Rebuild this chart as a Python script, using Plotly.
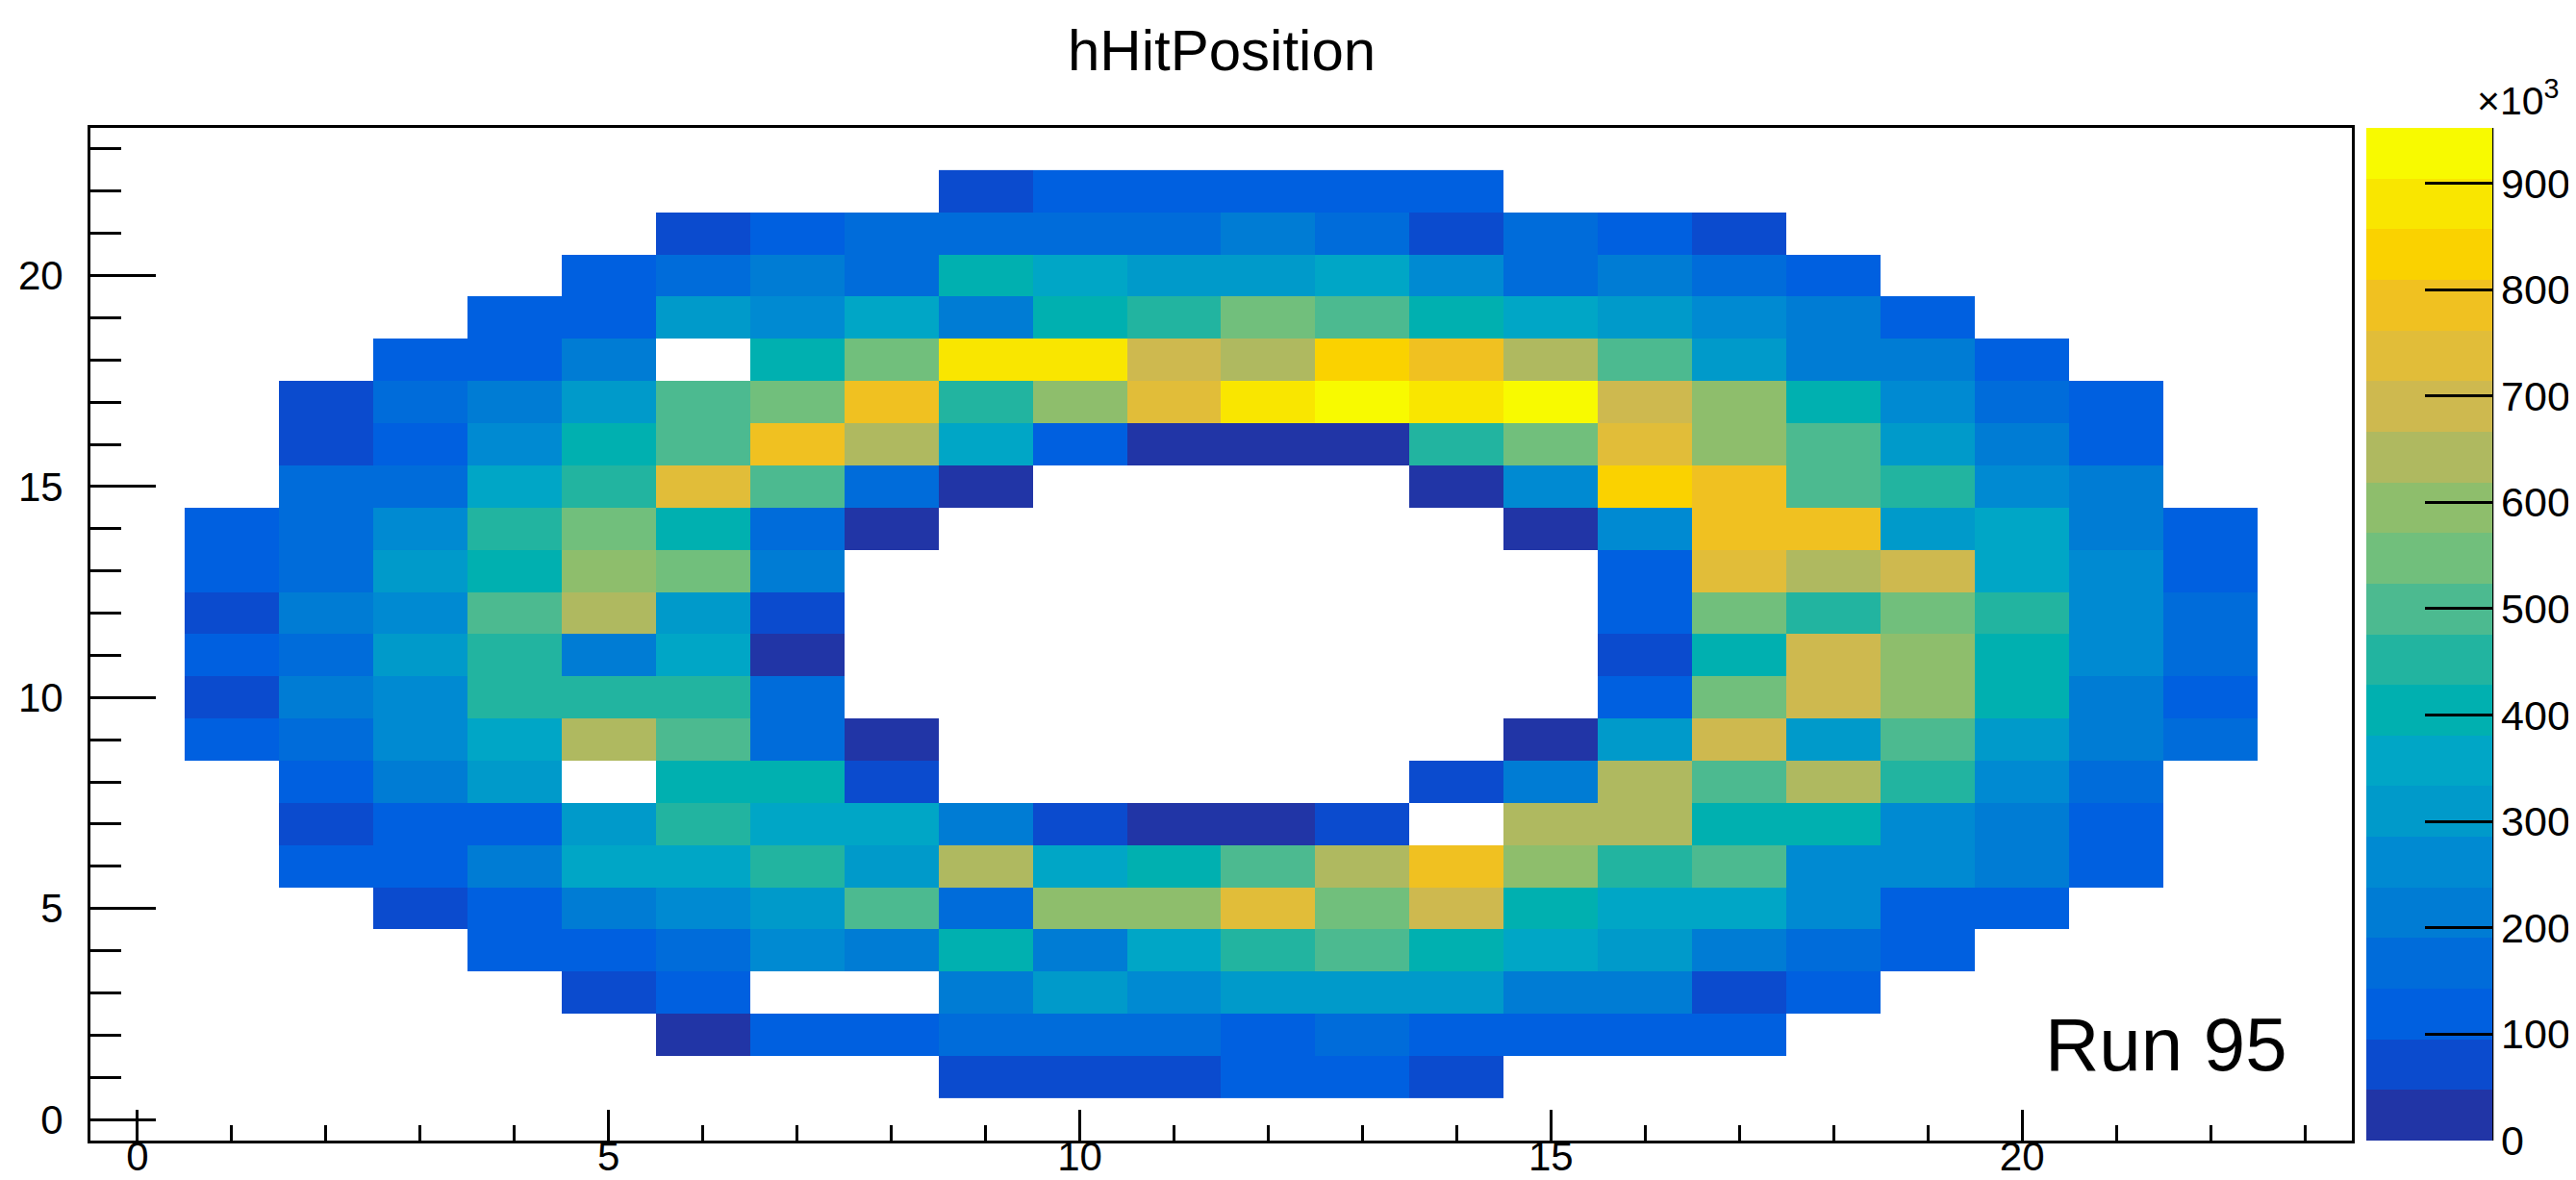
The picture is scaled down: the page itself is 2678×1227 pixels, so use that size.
import plotly.graph_objects as go

N = None

# bin centres (x, y) and z values in units of 10^3 counts
x_bins = list(range(1, 23))
y_bins = list(range(1, 23))

row_01 = [N]*8 + [70, 70, 70, 120, 120, 70] + [N]*8
row_02 = [N]*5 + [25, 120, 120, 165, 165, 165, 120, 165, 120, 120, 120, 120] + [N]*5
row_03 = [N]*4 + [70, 120, N, N, 215, 310, 260, 310, 310, 310, 215, 215, 70, 120] + [N]*4
row_04 = [N]*3 + [120, 120, 165, 260, 215, 405, 215, 355, 450, 500, 405, 355, 310, 215, 165, 120] + [N]*3
row_05 = [N]*2 + [70, 120, 215, 260, 310, 500, 165, 595, 595, 735, 545, 690, 405, 355, 355, 260, 120, 120] + [N]*2
row_06 = [N] + [120, 120, 215, 355, 355, 450, 310, 640, 355, 405, 500, 640, 785, 595, 450, 500, 260, 260, 215, 120] + [N]
row_07 = [N] + [70, 120, 120, 310, 450, 355, 355, 215, 70, 25, 25, 70, N, 640, 640, 405, 405, 260, 215, 120] + [N]
row_08 = [N] + [120, 215, 310, N, 405, 405, 70, N, N, N, N, N, 70, 215, 640, 500, 640, 450, 260, 165] + [N]
row_09 = [120, 165, 260, 355, 640, 500, 165, 25, N, N, N, N, N, N, 25, 300, 690, 310, 500, 310, 215, 165]
row_10 = [70, 215, 260, 450, 450, 450, 165] + [N]*8 + [120, 545, 690, 595, 405, 215, 120]
row_11 = [120, 165, 310, 450, 215, 355, 25] + [N]*8 + [70, 405, 690, 595, 405, 260, 165]
row_12 = [70, 215, 260, 500, 640, 310, 70] + [N]*8 + [120, 545, 450, 545, 450, 260, 165]
row_13 = [120, 165, 310, 405, 595, 545, 215] + [N]*8 + [120, 735, 640, 690, 355, 260, 120]
row_14 = [120, 165, 260, 450, 545, 405, 165, 25] + [N]*6 + [25, 260, 785, 785, 310, 355, 215, 120]
row_15 = [N] + [165, 165, 355, 450, 735, 500, 165, 25, N, N, N, N, 25, 260, 830, 785, 500, 450, 260, 215] + [N]
row_16 = [N] + [70, 120, 260, 405, 500, 785, 640, 355, 120, 25, 25, 25, 450, 545, 735, 595, 500, 310, 215, 120] + [N]
row_17 = [N] + [70, 165, 215, 310, 500, 545, 785, 450, 595, 735, 880, 930, 880, 930, 690, 595, 405, 260, 165, 120] + [N]
row_18 = [N]*2 + [120, 120, 215, N, 405, 545, 880, 880, 690, 640, 830, 785, 640, 500, 310, 215, 215, 120] + [N]*2
row_19 = [N]*3 + [120, 120, 310, 260, 355, 215, 405, 450, 545, 500, 405, 355, 310, 260, 215, 120] + [N]*3
row_20 = [N]*4 + [120, 165, 215, 165, 405, 355, 310, 310, 355, 260, 165, 215, 165, 120] + [N]*4
row_21 = [N]*5 + [70, 120, 165, 165, 165, 165, 215, 165, 70, 165, 120, 70] + [N]*5
row_22 = [N]*8 + [70, 120, 120, 120, 120, 120] + [N]*8

z_rows = [row_01, row_02, row_03, row_04, row_05, row_06, row_07, row_08, row_09, row_10, row_11,
          row_12, row_13, row_14, row_15, row_16, row_17, row_18, row_19, row_20, row_21, row_22]

z_max = 952
axis_ticks = [0, 5, 10, 15, 20]
cbar_ticks = [0, 100, 200, 300, 400, 500, 600, 700, 800, 900]

# ROOT kBird palette, 20 contour levels (as rendered)
palette = [
    "#2135A6", "#0B4BCE", "#0060E0", "#006CDA", "#007CD4",
    "#008AD2", "#009ACA", "#00A6C6", "#00B0B0", "#22B4A0",
    "#4CBA90", "#71BF7C", "#8EBE6C", "#AFB960", "#CEB94F",
    "#E1BD39", "#F0C121", "#FAD200", "#F9E600", "#F8FA00",
]
nlev = len(palette)
colorscale = []
for i, c in enumerate(palette):
    colorscale.append([i / nlev, c])
    colorscale.append([(i + 1) / nlev, c])

W, H = 2678, 1227
L, R, T, B = 86, 2437, 125, 1178.5
pw, ph = R - L, B - T


def px(xp):
    return (xp - L) / pw


def py(yp):
    return (B - yp) / ph


FONT = "Liberation Sans, Arial, Helvetica, sans-serif"

fig = go.Figure()
fig.add_trace(go.Heatmap(
    x=x_bins, y=y_bins, z=z_rows,
    zmin=0, zmax=z_max,
    colorscale=colorscale,
    hoverongaps=False,
    colorbar=dict(
        x=px(2452), xanchor="left", xpad=0,
        y=0.5, yanchor="middle", len=1, lenmode="fraction", ypad=0,
        thickness=131, thicknessmode="pixels",
        outlinewidth=0,
        tickmode="array", tickvals=cbar_ticks, ticktext=[str(v) for v in cbar_ticks],
        ticks="inside", ticklen=70, tickwidth=2.5, tickcolor="black",
        tickfont=dict(family=FONT, size=43, color="black"),
    ),
))

axis_common = dict(
    showgrid=False, zeroline=False,
    showline=True, linecolor="black", linewidth=3, mirror=True,
    ticks="inside", tickcolor="black", tickwidth=2.5,
    tickmode="array", tickvals=axis_ticks,
    tickfont=dict(family=FONT, size=42, color="black"),
    automargin=False,
)

fig.update_xaxes(range=[-0.5, 23.5], ticklen=32, ticklabelstandoff=-22,
                 minor=dict(dtick=1, tick0=0, ticks="inside", ticklen=16, tickcolor="black", tickwidth=2.5),
                 **axis_common)
fig.update_yaxes(range=[-0.5, 23.5], ticklen=68, ticklabelstandoff=17,
                 minor=dict(dtick=1, tick0=0, ticks="inside", ticklen=32, tickcolor="black", tickwidth=2.5),
                 **axis_common)

fig.add_shape(type="line", xref="paper", yref="paper",
              x0=px(2583), x1=px(2583), y0=0, y1=1,
              line=dict(color="black", width=2.5))

fig.add_annotation(text="hHitPosition", xref="paper", yref="paper",
                   x=0.5, y=py(44), xanchor="center", yanchor="middle",
                   showarrow=False, font=dict(family=FONT, size=60, color="black"))
fig.add_annotation(text="×10<sup>3</sup>", xref="paper", yref="paper",
                   x=px(2566), y=py(94), xanchor="left", yanchor="middle",
                   showarrow=False, borderpad=0, font=dict(family=FONT, size=41, color="black"))
fig.add_annotation(text="Run 95", xref="paper", yref="paper",
                   x=px(2372), y=py(1078), xanchor="right", yanchor="middle",
                   showarrow=False, font=dict(family=FONT, size=78, color="black"))

fig.update_layout(
    width=W, height=H,
    margin=dict(l=L, r=W - R, t=T, b=H - B, pad=0, autoexpand=False),
    paper_bgcolor="white", plot_bgcolor="white",
    template="none",
    showlegend=False,
)

fig.write_html("out.html")
